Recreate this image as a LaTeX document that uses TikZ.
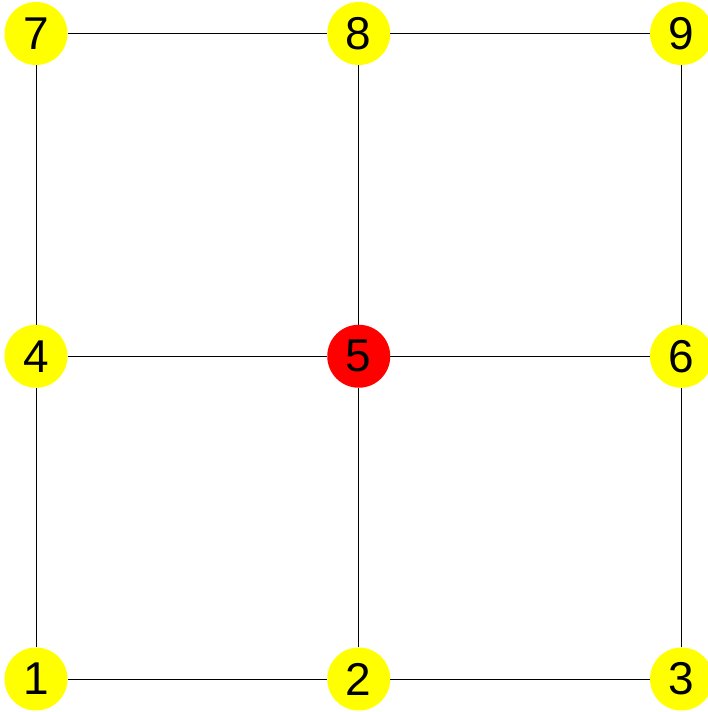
\documentclass[tikz,border=0pt]{standalone}
\usepackage{fontspec}
\setmainfont{Liberation Sans}
\usetikzlibrary{positioning}
\definecolor{bulb}{HTML}{FFFF00}
\definecolor{hot}{HTML}{FF0000}
\tikzset{cellnode/.style={circle,fill=bulb,inner sep=0pt,minimum size=63pt,font=\fontsize{46}{46}\selectfont},
hotnode/.style={cellnode,fill=hot},
gridline/.style={draw=black,line width=.9pt}}
\begin{document}
\begin{tikzpicture}[x=1pt,y=1pt,node distance=322.75pt and 322.75pt,on grid]
\useasboundingbox (0,0) rectangle (708,712);
\node[cellnode] (n1) at (36,33) {1};
\node[cellnode,right=of n1] (n2) {2};
\node[cellnode,right=of n2] (n3) {3};
\node[cellnode,above=of n1] (n4) {4};
\node[hotnode,right=of n4] (n5) {5};
\node[cellnode,right=of n5] (n6) {6};
\node[cellnode,above=of n4] (n7) {7};
\node[cellnode,right=of n7] (n8) {8};
\node[cellnode,right=of n8] (n9) {9};
\draw[gridline] (n1)--(n2) (n2)--(n3) (n4)--(n5) (n5)--(n6) (n7)--(n8) (n8)--(n9);
\draw[gridline] (n1)--(n4) (n4)--(n7) (n2)--(n5) (n5)--(n8) (n3)--(n6) (n6)--(n9);
\end{tikzpicture}
\end{document}
